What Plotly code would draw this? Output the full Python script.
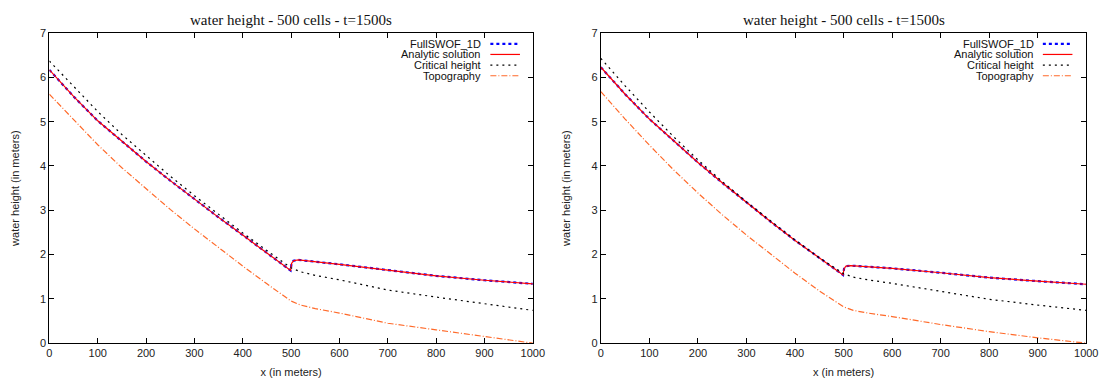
import plotly.graph_objects as go

# ---------------- data ----------------
title_text = "water height - 500 cells - t=1500s"

# left panel
xw_left = [0, 50, 100, 150, 200, 250, 300, 350, 400, 450, 490, 499, 501, 505, 515, 550, 600, 700, 800, 900, 1000]
water_left = [6.17, 5.57, 5.02, 4.55, 4.10, 3.67, 3.25, 2.84, 2.44, 2.04, 1.72, 1.64, 1.80, 1.86, 1.88, 1.84, 1.78, 1.65, 1.52, 1.42, 1.34]
xt_left = [0, 50, 100, 150, 200, 250, 300, 350, 400, 450, 500, 520, 550, 600, 700, 800, 900, 1000]
topo_left = [5.62, 5.04, 4.48, 3.96, 3.48, 3.02, 2.58, 2.15, 1.74, 1.34, 0.95, 0.86, 0.78, 0.68, 0.45, 0.30, 0.15, 0.0]
crit_left = [6.37, 5.79, 5.23, 4.71, 4.23, 3.77, 3.33, 2.90, 2.49, 2.09, 1.70, 1.61, 1.53, 1.43, 1.20, 1.04, 0.89, 0.74]

# right panel
xw_right = [0, 50, 100, 150, 200, 250, 300, 350, 400, 450, 490, 499, 501, 505, 515, 550, 600, 700, 800, 900, 1000]
water_right = [6.23, 5.62, 5.06, 4.56, 4.08, 3.62, 3.17, 2.74, 2.32, 1.92, 1.60, 1.54, 1.68, 1.74, 1.75, 1.73, 1.69, 1.59, 1.48, 1.40, 1.33]
xt_right = [0, 50, 100, 150, 200, 250, 300, 350, 400, 450, 500, 520, 550, 600, 700, 800, 900, 1000]
topo_right = [5.68, 5.06, 4.47, 3.91, 3.39, 2.90, 2.44, 2.00, 1.58, 1.18, 0.82, 0.74, 0.68, 0.60, 0.42, 0.26, 0.12, 0.0]
crit_right = [6.43, 5.81, 5.22, 4.66, 4.14, 3.65, 3.19, 2.75, 2.33, 1.93, 1.57, 1.49, 1.43, 1.35, 1.17, 0.99, 0.86, 0.74]

series_names = ["FullSWOF_1D", "Analytic solution", "Critical height", "Topography"]
x_ticks = [0, 100, 200, 300, 400, 500, 600, 700, 800, 900, 1000]
y_ticks = [0, 1, 2, 3, 4, 5, 6, 7]

# ---------------- styles ----------------
SANS = "Liberation Sans, Arial, sans-serif"
SERIF = "Liberation Serif, Times New Roman, serif"
ORANGE = "#ff6a2a"
series_styles = [
    dict(color="#0000ff", width=2.2, dash="dot"),
    dict(color="#ff0000", width=1.2),
    dict(color="#000000", width=1.2, dash="2px,4px"),
    dict(color=ORANGE, width=1.2, dash="6px,2px,1px,2px"),
]

W, H = 1117, 385
dl = [47 / W, 537 / W]
dr = [606 / W, 1098 / W]
dy = [1 - 348 / H, 1 - 28 / H]

fig = go.Figure()

panels = [
    ("x", "y", xw_left, water_left, xt_left, topo_left, crit_left),
    ("x2", "y2", xw_right, water_right, xt_right, topo_right, crit_right),
]
for xa, ya, xw, wv, xt, tv, cv in panels:
    data_xy = [(xw, wv), (xw, wv), (xt, cv), (xt, tv)]
    for (xs, ys), nm, st in zip(data_xy, series_names, series_styles):
        fig.add_trace(go.Scatter(x=xs, y=ys, xaxis=xa, yaxis=ya, mode="lines",
                                 name=nm, line=st, showlegend=False))

axis_common = dict(showline=True, linecolor="black", linewidth=1, mirror="ticks",
                   ticks="inside", ticklen=5, tickcolor="black", showgrid=False, zeroline=False,
                   tickfont=dict(family=SANS, size=11, color="#222"))

xaxis_style = dict(axis_common, range=[0, 1000], tickvals=x_ticks,
                   title=dict(text="x (in meters)", font=dict(family=SANS, size=11, color="#222"), standoff=9))
yaxis_style = dict(axis_common, range=[0, 7], tickvals=y_ticks,
                   title=dict(text="water height (in meters)", font=dict(family=SANS, size=11, color="#222"), standoff=18))

# gnuplot-style key: right-aligned text followed by a line sample
annotations = []
shapes = []
for text_right, samp0, samp1 in [(487, 494, 524), (1047, 1054, 1084)]:
    for i, (nm, st) in enumerate(zip(series_names, series_styles)):
        yrow = 39 + 11 * i
        annotations.append(dict(text=nm, xref="paper", yref="paper", x=text_right / W, y=1 - yrow / H,
                                xanchor="right", yanchor="middle", showarrow=False,
                                font=dict(family=SANS, size=11, color="#111")))
        shapes.append(dict(type="line", xref="paper", yref="paper",
                           x0=samp0 / W, x1=samp1 / W, y0=1 - yrow / H, y1=1 - yrow / H,
                           line=st))

for d in (dl, dr):
    annotations.append(dict(text=title_text, xref="paper", yref="paper", x=(d[0] + d[1]) / 2, y=1 - 14 / H,
                            xanchor="center", yanchor="middle", showarrow=False,
                            font=dict(family=SERIF, size=15, color="#111")))

fig.update_layout(
    width=W, height=H,
    margin=dict(l=0, r=0, t=0, b=0),
    paper_bgcolor="white", plot_bgcolor="white",
    showlegend=False,
    xaxis=dict(xaxis_style, domain=dl, anchor="y"),
    yaxis=dict(yaxis_style, domain=dy, anchor="x"),
    xaxis2=dict(xaxis_style, domain=dr, anchor="y2"),
    yaxis2=dict(yaxis_style, domain=dy, anchor="x2"),
    annotations=annotations,
    shapes=shapes,
)

fig.write_html("out.html")
